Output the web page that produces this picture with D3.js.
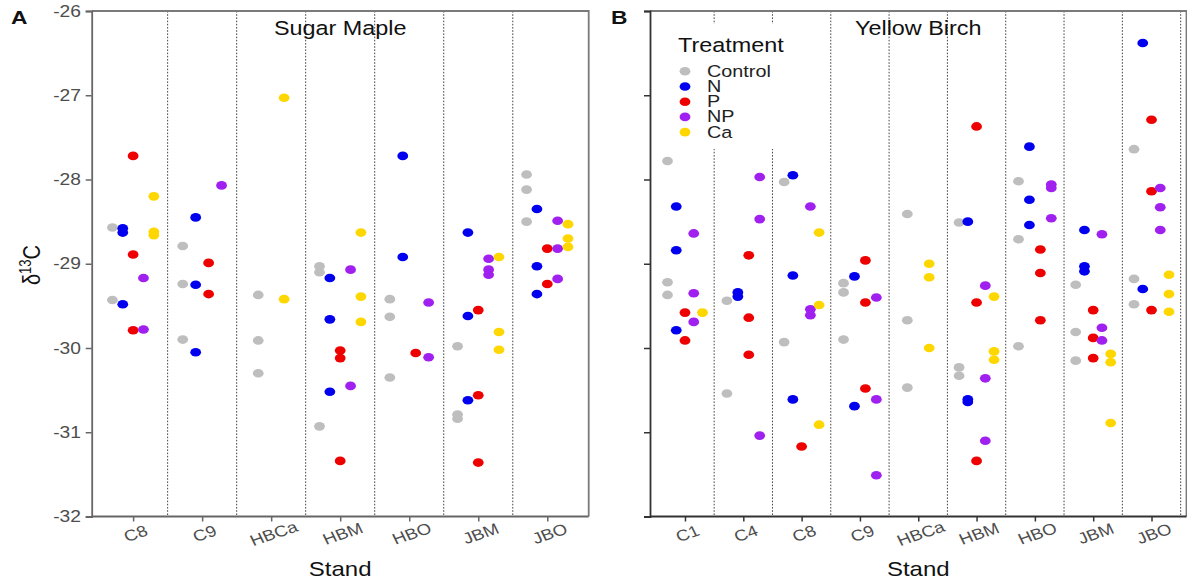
<!DOCTYPE html>
<html>
<head>
<meta charset="utf-8">
<script src="https://cdn.jsdelivr.net/npm/d3@7"></script>
<style>
  html, body { margin: 0; padding: 0; background: #fff; }
  svg { display: block; font-family: "Liberation Sans", Arial, sans-serif; }
</style>
</head>
<body>
<svg id="chart" width="1187" height="585"></svg>
<script>
// Stands sampled for each species
const mapleStands = ["C8", "C9", "HBCa", "HBM", "HBO", "JBM", "JBO"];
const birchStands = ["C1", "C4", "C8", "C9", "HBCa", "HBM", "HBO", "JBM", "JBO"];

// Treatments and their colours
const treatments = ["Control", "N", "P", "NP", "Ca"];
const treatmentColors = ["#BEBEBE", "#0000EE", "#EE0000", "#A020F0", "#FFD700"];

// delta 13C axis ticks
const yTicks = [-32, -31, -30, -29, -28, -27, -26];

// Sugar maple leaf delta 13C, [stand, value] per treatment
const mapleControl = [["C8",-28.57],["C8",-29.43],["C9",-28.79],["C9",-29.24],["C9",-29.90],["HBCa",-29.37],["HBCa",-29.91],["HBCa",-30.30],["HBM",-29.03],["HBM",-29.10],["HBM",-30.93],["HBO",-29.42],["HBO",-29.63],["HBO",-30.35],["JBM",-29.98],["JBM",-30.79],["JBM",-30.84],["JBO",-27.94],["JBO",-28.12],["JBO",-28.50]];
const mapleN = [["C8",-28.58],["C8",-28.63],["C8",-29.48],["C9",-28.45],["C9",-29.25],["C9",-30.05],["HBM",-29.17],["HBM",-29.66],["HBM",-30.52],["HBO",-27.72],["HBO",-28.92],["JBM",-28.63],["JBM",-29.62],["JBM",-30.62],["JBO",-28.35],["JBO",-29.03],["JBO",-29.36]];
const mapleP = [["C8",-27.72],["C8",-28.89],["C8",-29.79],["C9",-28.99],["C9",-29.36],["HBM",-30.03],["HBM",-30.12],["HBM",-31.34],["HBO",-30.06],["JBM",-29.55],["JBM",-30.56],["JBM",-31.36],["JBO",-28.82],["JBO",-29.24]];
const mapleNP = [["C8",-29.17],["C8",-29.78],["C9",-28.07],["HBM",-29.07],["HBM",-30.45],["HBO",-29.46],["HBO",-30.11],["JBM",-28.94],["JBM",-29.07],["JBM",-29.13],["JBO",-28.49],["JBO",-28.82],["JBO",-29.18]];
const mapleCa = [["C8",-28.20],["C8",-28.62],["C8",-28.66],["HBCa",-27.03],["HBCa",-29.42],["HBM",-28.63],["HBM",-29.39],["HBM",-29.69],["JBM",-28.92],["JBM",-29.81],["JBM",-30.02],["JBO",-28.53],["JBO",-28.70],["JBO",-28.80]];

// Yellow birch leaf delta 13C, [stand, value] per treatment
const birchControl = [["C1",-27.78],["C1",-29.22],["C1",-29.37],["C4",-29.44],["C4",-30.54],["C8",-28.03],["C8",-29.93],["C9",-29.23],["C9",-29.34],["C9",-29.90],["HBCa",-28.41],["HBCa",-29.67],["HBCa",-30.47],["HBM",-28.51],["HBM",-30.23],["HBM",-30.33],["HBO",-28.02],["HBO",-28.71],["HBO",-29.98],["JBM",-29.25],["JBM",-29.81],["JBM",-30.15],["JBO",-27.64],["JBO",-29.18],["JBO",-29.48]];
const birchN = [["C1",-28.32],["C1",-28.84],["C1",-29.79],["C4",-29.34],["C4",-29.39],["C8",-27.95],["C8",-29.14],["C8",-30.61],["C9",-29.15],["C9",-30.69],["HBM",-28.50],["HBM",-30.61],["HBM",-30.64],["HBO",-27.61],["HBO",-28.24],["HBO",-28.54],["JBM",-28.60],["JBM",-29.03],["JBM",-29.09],["JBO",-26.38],["JBO",-29.30]];
const birchP = [["C1",-29.58],["C1",-29.91],["C4",-28.90],["C4",-29.64],["C4",-30.08],["C8",-31.17],["C9",-28.96],["C9",-29.46],["C9",-30.48],["HBM",-27.37],["HBM",-29.46],["HBM",-31.34],["HBO",-28.83],["HBO",-29.11],["HBO",-29.67],["JBM",-29.55],["JBM",-29.88],["JBM",-30.12],["JBO",-27.29],["JBO",-28.14],["JBO",-29.55]];
const birchNP = [["C1",-28.64],["C1",-29.35],["C1",-29.69],["C4",-27.97],["C4",-28.47],["C4",-31.04],["C8",-28.32],["C8",-29.54],["C8",-29.61],["C9",-29.40],["C9",-30.61],["C9",-31.51],["HBM",-29.26],["HBM",-30.36],["HBM",-31.10],["HBO",-28.06],["HBO",-28.10],["HBO",-28.46],["JBM",-28.65],["JBM",-29.76],["JBM",-29.91],["JBO",-28.10],["JBO",-28.33],["JBO",-28.60]];
const birchCa = [["C1",-29.58],["C8",-28.63],["C8",-29.49],["C8",-30.91],["HBCa",-29.00],["HBCa",-29.16],["HBCa",-30.00],["HBM",-29.39],["HBM",-30.04],["HBM",-30.14],["JBM",-30.07],["JBM",-30.17],["JBM",-30.89],["JBO",-29.13],["JBO",-29.36],["JBO",-29.57]];

// ---------------------------------------------------------------
const SX = 1.2;            // horizontal text stretch
const DOT_RX = 5.4, DOT_RY = 4.3;
const TOP = 11, BOTTOM = 516.5;
const FONT = '"Liberation Sans", Arial, sans-serif';

const svg = d3.select("#chart");
const color = d3.scaleOrdinal().domain(treatments).range(treatmentColors);
const y = d3.scaleLinear().domain([-32, -26]).range([BOTTOM, TOP]);

function stretchedText(g, x, y0, str, opts = {}) {
  const rot = opts.rotate ? ` rotate(${opts.rotate})` : "";
  return g.append("text")
    .attr("transform", `translate(${x},${y0}) scale(${SX},1)${rot}`)
    .attr("text-anchor", opts.anchor || "start")
    .attr("font-size", opts.size || 15)
    .attr("font-weight", opts.weight || "normal")
    .attr("fill", opts.fill || "#111")
    .text(str);
}

function panel(cfg) {
  const g = svg.append("g");
  const x = d3.scalePoint().domain(cfg.stands).range([cfg.x0, cfg.x1]).padding(0.6);
  const step = x.step();

  // dotted separators between stands
  g.append("g").selectAll("line")
    .data(cfg.separators)
    .join("line")
    .attr("x1", d => x(cfg.stands[0]) + (d - 1) * step)
    .attr("x2", d => x(cfg.stands[0]) + (d - 1) * step)
    .attr("y1", TOP).attr("y2", BOTTOM)
    .attr("stroke", "#444").attr("stroke-width", 1)
    .attr("stroke-dasharray", "1.6,1.6");

  // top and right frame
  g.append("path")
    .attr("d", `M${cfg.x0},${TOP}H${cfg.x1}V${BOTTOM}`)
    .attr("fill", "none").attr("stroke", "#7a7a7a").attr("stroke-width", 1.8);

  // y axis
  const ya = g.append("g").attr("transform", `translate(${cfg.x0},0)`)
    .call(d3.axisLeft(y).tickValues(yTicks).tickSize(6).tickPadding(3)
      .tickFormat(cfg.yLabels ? d3.format("d") : () => ""));
  ya.select(".domain").attr("stroke", cfg.axisColor).attr("stroke-width", 1.8);
  ya.selectAll(".tick line").attr("stroke", cfg.axisColor).attr("stroke-width", 1.5);
  ya.selectAll(".tick text")
    .attr("font-family", FONT).attr("font-size", 16).attr("fill", "#4d4d4d")
    .attr("transform", `scale(${SX},1)`)
    .text(d => cfg.yLabels ? String(d) : "");

  // x axis
  const xa = g.append("g").attr("transform", `translate(0,${BOTTOM})`)
    .call(d3.axisBottom(x).tickSize(5).tickSizeOuter(0));
  xa.select(".domain").attr("stroke", cfg.axisColor).attr("stroke-width", 1.8)
    .attr("d", `M${cfg.x0},0H${cfg.x1}`);
  xa.selectAll(".tick line").attr("stroke", cfg.axisColor).attr("stroke-width", 1.5);
  xa.selectAll(".tick text")
    .attr("font-family", FONT).attr("font-size", 15.5).attr("fill", "#4d4d4d")
    .attr("x", 0).attr("y", 0).attr("dy", "0.35em")
    .attr("text-anchor", "middle")
    .attr("transform", `translate(2,17) scale(${SX},1) rotate(-22)`);

  // legend (drawn over the separators)
  if (cfg.legend) cfg.legend(g);

  // points, dodged by treatment within each stand
  const points = [];
  cfg.series.forEach((arr, ti) => {
    arr.forEach(([stand, v]) => points.push({ stand, treatment: treatments[ti], value: v }));
  });
  const present = new Map();
  cfg.stands.forEach(s => {
    present.set(s, treatments.filter(t => points.some(p => p.stand === s && p.treatment === t)));
  });
  const dodgeWidth = 0.75 * step;
  g.append("g").selectAll("ellipse")
    .data(points)
    .join("ellipse")
    .attr("cx", d => {
      const groups = present.get(d.stand);
      const n = groups.length;
      const i = groups.indexOf(d.treatment);
      return x(d.stand) + (i - (n - 1) / 2) * dodgeWidth / n;
    })
    .attr("cy", d => y(d.value))
    .attr("rx", DOT_RX).attr("ry", DOT_RY)
    .attr("fill", d => color(d.treatment));

  // titles
  const cx = (cfg.x0 + cfg.x1) / 2;
  stretchedText(g, cx, 35, cfg.title, { anchor: "middle", size: 19.5, fill: "#111" });
  stretchedText(g, cx, 576, "Stand", { anchor: "middle", size: 20, fill: "#111" });
  stretchedText(g, cfg.tagX, 23.5, cfg.tag, { size: 19, weight: "bold", fill: "#111" });
}

panel({
  stands: mapleStands, x0: 91.7, x1: 588.7,
  separators: [1.5, 2.5, 3.5, 4.5, 5.5, 6.5],
  series: [mapleControl, mapleN, mapleP, mapleNP, mapleCa],
  title: "Sugar Maple", tag: "A", tagX: 11, yLabels: true, axisColor: "#666"
});

panel({
  stands: birchStands, x0: 650, x1: 1186.5,
  separators: [1.5, 2.5, 3.5, 4.5, 5.5, 6.5, 7.5, 8.5, 9.5],
  series: [birchControl, birchN, birchP, birchNP, birchCa],
  title: "Yellow Birch", tag: "B", tagX: 611, yLabels: false, axisColor: "#333",
  legend: g => {
    const lg = g.append("g");
    lg.append("rect").attr("x", 662).attr("y", 24).attr("width", 138).attr("height", 125)
      .attr("fill", "#fff");
    stretchedText(lg, 678, 52, "Treatment", { size: 19.5, fill: "#111" });
    treatments.forEach((t, i) => {
      const ry = 71.3 + i * 15.2;
      lg.append("ellipse").attr("cx", 685).attr("cy", ry)
        .attr("rx", DOT_RX).attr("ry", DOT_RY).attr("fill", color(t));
      stretchedText(lg, 707, ry + 5.5, t, { size: 16.5, fill: "#222" });
    });
  }
});

// y axis title: delta 13C
const yt = svg.append("text")
  .attr("transform", `translate(40,265) scale(${SX},1) rotate(-90)`)
  .attr("text-anchor", "middle")
  .attr("font-size", 20).attr("fill", "#111");
yt.append("tspan").text("δ");
yt.append("tspan").attr("font-size", 13).attr("dy", "-0.55em").text("13");
yt.append("tspan").attr("dy", "0.36em").text("C");
</script>
</body>
</html>
